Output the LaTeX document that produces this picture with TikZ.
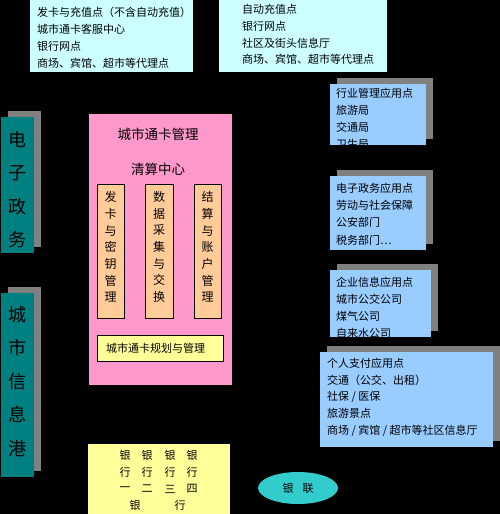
\documentclass[tikz,border=0pt]{standalone}
\usepackage{fontspec}
\newfontfamily\cjk{Noto Sans CJK SC}
\usetikzlibrary{shapes.geometric,arrows.meta}
\definecolor{cyanbox}{HTML}{CCFFFF}
\definecolor{bluebox}{HTML}{99CCFF}
\definecolor{pinkbox}{HTML}{FF99CC}
\definecolor{orangebox}{HTML}{FFCC99}
\definecolor{yellowbox}{HTML}{FFFF99}
\definecolor{tealbox}{HTML}{008080}
\definecolor{ellc}{HTML}{33CCCC}
\definecolor{shadowc}{HTML}{808080}
\tikzset{
  txt/.style={font=\cjk\fontsize{11}{13}\selectfont, inner sep=0pt, text=black},
  vtxt/.style={font=\cjk\fontsize{12}{16.7}\selectfont, inner sep=0pt, align=center, text=black},
  bigv/.style={font=\cjk\fontsize{18}{33.5}\selectfont, inner sep=0pt, align=center, text=black},
  title/.style={font=\cjk\fontsize{13.5}{15}\selectfont, inner sep=0pt, text=black},
  arr/.style={-{Latex[length=6pt,width=5pt]}, draw=black, line width=0.6pt},
  boxbase/.style={inner sep=0pt, outer sep=0pt, rectangle}
}
% \rbox{name}{x1}{y1}{x2}{y2}{style}
\newcommand\rbox[6]{%
  \node[boxbase, #6, minimum width={(#4-#2)*1pt}, minimum height={(#5-#3)*1pt}]
    (#1) at ({(#2+#4)/2},{(#3+#5)/2}) {};}
\newcommand\shbox[6]{%
  \fill[shadowc] ({#2+7},{#3-6}) rectangle ({#4+7},{#5-6});
  \rbox{#1}{#2}{#3}{#4}{#5}{#6}}
\begin{document}
\begin{tikzpicture}[x=1pt,y=-1pt]
\useasboundingbox (0,0) rectangle (500,514);
\fill[black] (0,0) rectangle (500,514);

% top boxes
\rbox{tl}{30}{0}{193}{72}{fill=cyanbox}
\foreach \t [count=\i from 0] in {发卡与充值点（不含自动充值）,城市通卡客服中心,银行网点,商场、宾馆、超市等代理点}
  \node[txt, anchor=base west] (tlt\i) at (37,{16.2+17*\i}) {\t};
\rbox{tr}{219}{0}{387}{72}{fill=cyanbox}
\foreach \t [count=\i from 0] in {自动充值点,银行网点,社区及街头信息厅,商场、宾馆、超市等代理点}
  \node[txt, anchor=base west] (trt\i) at (242,{13.7+16.7*\i}) {\t};

% right boxes
\shbox{r1}{330}{84}{426}{145}{fill=bluebox}
\begin{scope}
\clip (330,84) rectangle (426,145);
\foreach \t [count=\i from 0] in {行业管理应用点,旅游局,交通局,卫生局}
  \node[txt, anchor=base west] (r1t\i) at (336,{97.2+17*\i}) {\t};
\end{scope}
\shbox{r2}{330}{176}{426}{250}{fill=bluebox}
\foreach \t [count=\i from 0] in {电子政务应用点,劳动与社会保障,公安部门,税务部门…}
  \node[txt, anchor=base west] (r2t\i) at (336,{192.2+17.3*\i}) {\t};
\shbox{r3}{330}{270}{431}{337}{fill=bluebox}
\begin{scope}
\clip (330,270) rectangle (431,337);
\foreach \t [count=\i from 0] in {企业信息应用点,城市公交公司,煤气公司,自来水公司}
  \node[txt, anchor=base west] (r3t\i) at (336,{286.2+17*\i}) {\t};
\end{scope}
\shbox{r4}{320}{352}{493}{447}{fill=bluebox}
\foreach \t [count=\i from 0] in {个人支付应用点,交通（公交、出租）,社保 / 医保,旅游景点,商场 / 宾馆 / 超市等社区信息厅}
  \node[txt, anchor=base west] (r4t\i) at (327,{367.2+16.8*\i}) {\t};

% left teal boxes
\shbox{dz}{1}{117}{34}{253}{fill=tealbox}
\node[bigv] (dzt) at (17.5,189.5) {电\\子\\政\\务};
\shbox{cs}{1}{293}{34}{477}{fill=tealbox}
\node[bigv] (cst) at (17.5,381.5) {城\\市\\信\\息\\港};

% pink center box
\rbox{pink}{89}{114}{232}{385}{fill=pinkbox}
\node[title] (pt1) at (158,134) {城市通卡管理};
\node[title] (pt2) at (158,169) {清算中心};
\rbox{c1}{97}{184}{124}{318}{fill=orangebox, draw=black, line width=0.5pt}
\rbox{c2}{145}{184}{173}{318}{fill=orangebox, draw=black, line width=0.5pt}
\rbox{c3}{194}{184}{221}{318}{fill=orangebox, draw=black, line width=0.5pt}
\node[vtxt] (c1t) at (110.5,247) {发\\卡\\与\\密\\钥\\管\\理};
\node[vtxt] (c2t) at (159,247) {数\\据\\采\\集\\与\\交\\换};
\node[vtxt] (c3t) at (207.5,247) {结\\算\\与\\账\\户\\管\\理};
\rbox{plan}{97}{335}{223}{361}{fill=yellowbox, draw=black, line width=0.5pt}
\node[txt, anchor=west] (plant) at (106,348) {城市通卡规划与管理};

% bank box
\rbox{bank}{88}{444}{230}{514}{fill=yellowbox}
\foreach \x/\n [count=\i] in {125/一,147/二,170/三,192/四} {
  \node[txt] (by\i) at (\x,455) {银};
  \node[txt] (bh\i) at (\x,472) {行};
  \node[txt] (bn\i) at (\x,489) {\n};
}
\node[txt] (bb1) at (135,505) {银};
\node[txt] (bb2) at (180,505) {行};

% ellipse
\node[ellipse, fill=ellc, minimum width=80pt, minimum height=32pt, inner sep=0pt,
      font=\cjk\fontsize{11}{13}\selectfont] (yl) at (298,488) {银\hspace{9pt}联};

% connectors (black on black)
\coordinate (a1) at (41,138);
\coordinate (a2) at (41,312);
\coordinate (a3) at (41,340);
\draw[arr] (pink.west |- a1) -- (a1);
\draw[arr] (a2) -- (pink.west |- a2);
\draw[arr] (pink.west |- a3) -- (a3);
\foreach \x [count=\i] in {107,161,213} {
  \coordinate (bx\i) at (\x,0);
  \draw[arr] (pink.south -| bx\i) -- (bank.north -| bx\i);
}
\end{tikzpicture}
\end{document}
